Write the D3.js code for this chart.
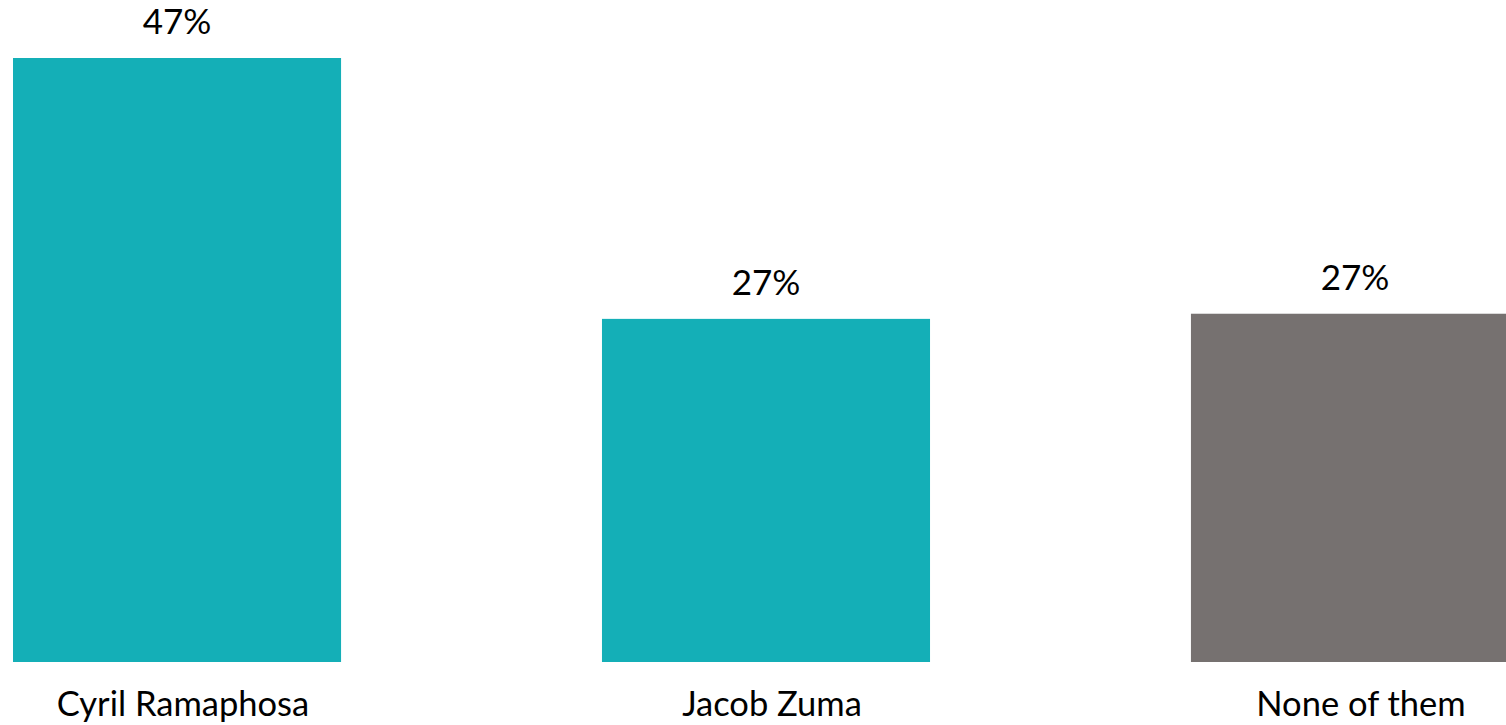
<!DOCTYPE html>
<html>
<head>
<meta charset="utf-8">
<script src="https://cdn.jsdelivr.net/npm/d3@7"></script>
<style>
    html, body { margin: 0; padding: 0; background: #fff; overflow: hidden; }
    svg { display: block; font-family: Lato, "Open Sans", sans-serif; }
</style>
</head>
<body>
<svg id="chart" width="1506" height="725"></svg>
<script>
// Data
var categories = ["Cyril Ramaphosa", "Jacob Zuma", "None of them"];
var values = [47.0, 26.7, 27.1];
var valueLabels = ["47%", "27%", "27%"];
var barColors = ["#14afb7", "#14afb7", "#767170"];

var style = {
    left: 13,
    right: 1519,
    top: 58,
    bottom: 662,
    innerPad: 0.443,
    valueFont: 35,
    catFont: 34.5
};

var svg = d3.select("#chart");

var x = d3.scaleBand()
    .domain(categories)
    .range([style.left, style.right])
    .paddingInner(style.innerPad)
    .paddingOuter(0);

var y = d3.scaleLinear()
    .domain([0, d3.max(values)])
    .range([style.bottom, style.top]);

var rows = categories.map(function(c, i) {
    return { name: c, value: values[i], label: valueLabels[i], color: barColors[i] };
});

svg.append("g")
    .selectAll("rect")
    .data(rows)
    .enter()
    .append("rect")
    .attr("x", function(d) { return x(d.name); })
    .attr("y", function(d) { return y(d.value); })
    .attr("width", x.bandwidth())
    .attr("height", function(d) { return y(0) - y(d.value); })
    .attr("fill", function(d) { return d.color; });

// value labels above bars
svg.append("g")
    .selectAll("text")
    .data(rows)
    .enter()
    .append("text")
    .attr("x", function(d) { return x(d.name) + x.bandwidth() / 2; })
    .attr("y", function(d) { return y(d.value) - 24; })
    .attr("text-anchor", "middle")
    .attr("font-size", style.valueFont)
    .attr("fill", "#000")
    .text(function(d) { return d.label; });

// category axis, no line or ticks
var axis = svg.append("g")
    .attr("transform", "translate(0," + style.bottom + ")")
    .call(d3.axisBottom(x).tickSize(0).tickPadding(0));

axis.select(".domain").remove();
axis.selectAll("text")
    .attr("font-size", style.catFont)
    .attr("font-family", "Lato, 'Open Sans', sans-serif")
    .attr("fill", "#000")
    .attr("dx", 6)
    .attr("dy", 0)
    .attr("y", 54);
</script>
</body>
</html>
